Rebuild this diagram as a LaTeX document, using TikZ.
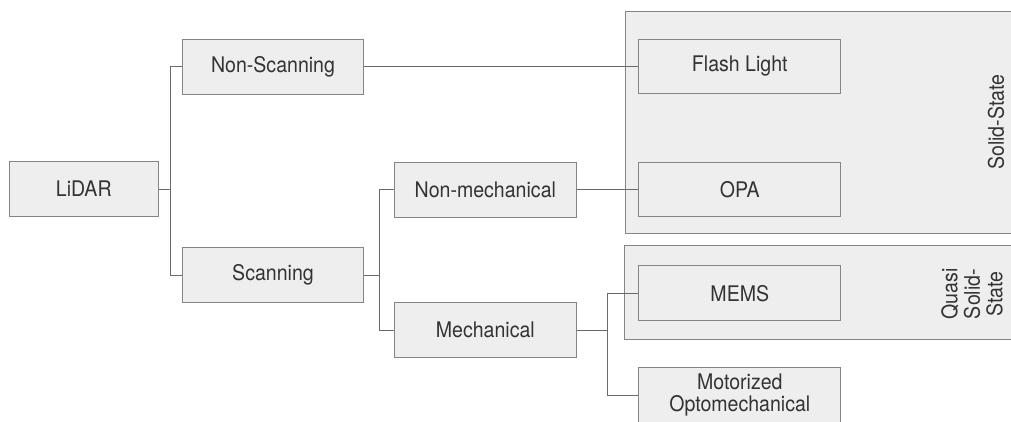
\documentclass[tikz,border=0pt]{standalone}
\usepackage{fontspec}
\setmainfont[FakeStretch=0.91]{TeX Gyre Heros}
\definecolor{boxfill}{HTML}{EEEEEE}
\definecolor{boxline}{HTML}{858585}
\definecolor{conn}{HTML}{6A6A6A}
\definecolor{txt}{HTML}{333333}
\begin{document}
\begin{tikzpicture}[x=1pt,y=-1pt,
  every node/.style={font=\fontsize{21.5}{22.5}\selectfont, text=txt},
  item/.style={draw=boxline, fill=boxfill, line width=1pt, rectangle, inner sep=0pt, align=center},
  group/.style={draw=boxline, fill=boxfill, line width=1pt},
  link/.style={draw=conn, line width=1pt}]
\useasboundingbox (0,0) rectangle (1011,421);
\clip (0,0) rectangle (1011,421);
% containers
\draw[group] (1020,11.7) -- (625.8,11.7) -- (625.8,233) -- (1020,233);
\draw[group] (1020,245) -- (624.3,245) -- (624.3,339.3) -- (1020,339.3);
\node[rotate=90] (solid) at (996,122) {Solid-State};
\node[rotate=90, align=center] (quasi) at (972,294) {Quasi\\Solid-\\State};
% boxes
\node[item, minimum width=149pt, minimum height=54.6pt] (lidar) at (83.8,189) {LiDAR};
\node[item, minimum width=181.4pt, minimum height=55pt] (nons) at (273,66.5) {Non-Scanning};
\node[item, minimum width=181.4pt, minimum height=55pt] (scan) at (273,275.3) {Scanning};
\node[item, minimum width=181.5pt, minimum height=55pt] (nonmech) at (485.3,189.6) {Non-mechanical};
\node[item, minimum width=181.5pt, minimum height=55pt] (mech) at (485.3,330.3) {Mechanical};
\node[item, minimum width=202.3pt, minimum height=54.7pt] (flash) at (739.8,66.5) {Flash Light};
\node[item, minimum width=202.3pt, minimum height=54.7pt] (opa) at (739.8,189.6) {OPA};
\node[item, minimum width=202.3pt, minimum height=54.7pt] (mems) at (739.8,293.3) {MEMS};
\node[item, minimum width=202.3pt, minimum height=54.7pt] (motor) at (739.8,395) {Motorized\\Optomechanical};
% junctions
\coordinate (j1) at (170.3,189);
\coordinate (j2) at (379,275.3);
\coordinate (j3) at (607,330.3);
% connectors
\draw[link] (lidar.east) -- (j1);
\draw[link] (j1) |- (nons.west);
\draw[link] (j1) |- (scan.west);
\draw[link] (scan.east) -- (j2);
\draw[link] (j2) |- (nonmech.west);
\draw[link] (j2) |- (mech.west);
\draw[link] (mech.east) -- (j3);
\draw[link] (j3) |- (mems.west);
\draw[link] (j3) |- (motor.west);
\draw[link] (nons.east) -- (flash.west);
\draw[link] (nonmech.east) -- (opa.west);
\end{tikzpicture}
\end{document}
